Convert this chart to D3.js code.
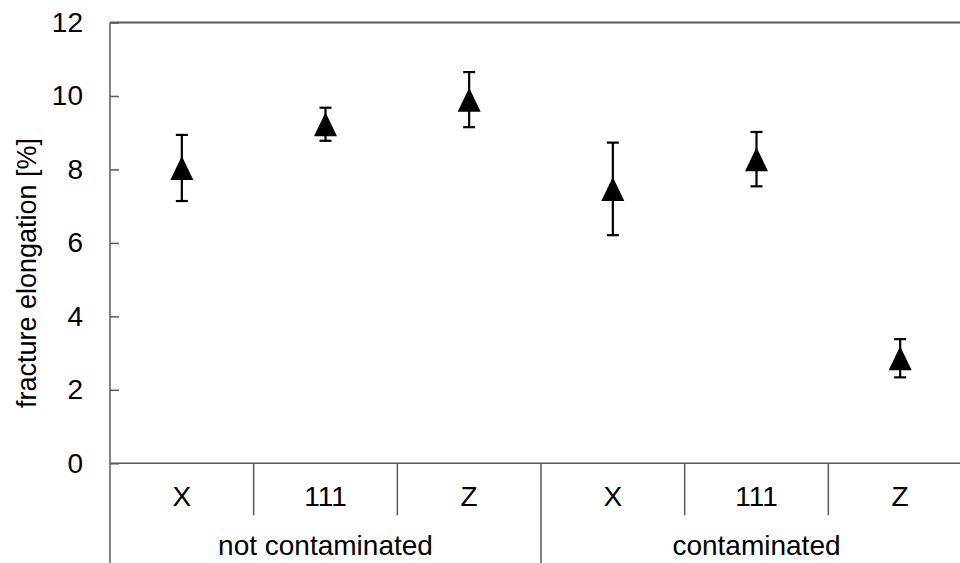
<!DOCTYPE html>
<html>
<head>
<meta charset="utf-8">
<script src="https://cdn.jsdelivr.net/npm/d3@7"></script>
<style>
  html, body { margin: 0; padding: 0; background: #fff; }
  svg { display: block; }
  text { font-family: "Liberation Sans", Arial, sans-serif; fill: #000; }
</style>
</head>
<body>
<svg id="chart" width="960" height="563"></svg>
<script>
// Fracture elongation (mean ± spread) per orientation, with and without contamination
const categories = ["X", "111", "Z", "X", "111", "Z"];
const groups = ["not contaminated", "contaminated"];
const groupSize = 3;
const means = [8.04, 9.23, 9.90, 7.47, 8.28, 2.86];
const errors = [0.90, 0.45, 0.75, 1.26, 0.74, 0.52];
const yTicks = [0, 2, 4, 6, 8, 10, 12];
const yLabel = "fracture elongation [%]";

const W = 960, H = 563;
const margin = { left: 110, top: 22.5, bottom: 463.3, right: 972 };
const axisColor = "#5a5a5a";
const fontSize = 28;

const svg = d3.select("#chart");

const x = d3.scaleBand()
  .domain(d3.range(categories.length))
  .range([margin.left, margin.right])
  .padding(0);

const y = d3.scaleLinear()
  .domain([0, 12])
  .range([margin.bottom, margin.top]);

// Top frame line
svg.append("line")
  .attr("x1", margin.left).attr("x2", W)
  .attr("y1", y(12)).attr("y2", y(12))
  .attr("stroke", axisColor).attr("stroke-width", 2);

// Y axis with inward ticks
const yAxis = d3.axisLeft(y)
  .tickValues(yTicks)
  .tickSizeInner(-9)
  .tickSizeOuter(0)
  .tickPadding(27)
  .tickFormat(d3.format("d"));

const gy = svg.append("g")
  .attr("transform", `translate(${margin.left},0)`)
  .call(yAxis);
gy.select(".domain").remove();
gy.selectAll(".tick line").attr("stroke", axisColor).attr("stroke-width", 1.5);
gy.selectAll(".tick text")
  .attr("font-size", fontSize)
  .attr("font-family", "Liberation Sans, Arial, sans-serif")
  .attr("fill", "#000");

// Left axis line (runs down through the category area)
svg.append("line")
  .attr("x1", margin.left).attr("x2", margin.left)
  .attr("y1", y(12)).attr("y2", H)
  .attr("stroke", axisColor).attr("stroke-width", 1.5);

// X axis baseline
svg.append("line")
  .attr("x1", margin.left).attr("x2", margin.right)
  .attr("y1", y(0)).attr("y2", y(0))
  .attr("stroke", axisColor).attr("stroke-width", 1.5);

// Category separators: short between categories, long between groups
const bounds = d3.range(1, categories.length + 1).map(i => x(i - 1) + x.bandwidth());
svg.append("g").selectAll("line")
  .data(bounds)
  .join("line")
  .attr("x1", d => d).attr("x2", d => d)
  .attr("y1", y(0))
  .attr("y2", (d, i) => ((i + 1) % groupSize === 0) ? H : y(0) + 52)
  .attr("stroke", axisColor).attr("stroke-width", 1.5);

// Category labels
svg.append("g").selectAll("text")
  .data(categories)
  .join("text")
  .attr("x", (d, i) => x(i) + x.bandwidth() / 2)
  .attr("y", y(0) + 43)
  .attr("text-anchor", "middle")
  .attr("font-size", fontSize)
  .text(d => d);

// Group labels
svg.append("g").selectAll("text")
  .data(groups)
  .join("text")
  .attr("x", (d, g) => {
    const a = x(g * groupSize);
    const b = x(g * groupSize + groupSize - 1) + x.bandwidth();
    return (a + b) / 2;
  })
  .attr("y", 555)
  .attr("text-anchor", "middle")
  .attr("font-size", fontSize)
  .text(d => d);

// Y axis title
svg.append("text")
  .attr("transform", `translate(36,273) rotate(-90)`)
  .attr("text-anchor", "middle")
  .attr("font-size", 27)
  .text(yLabel);

// Error bars
const capHalf = 6;
const eb = svg.append("g").selectAll("g")
  .data(means.map((m, i) => ({ i, m, e: errors[i] })))
  .join("g")
  .attr("stroke", "#000")
  .attr("stroke-width", 2.2);
eb.append("line")
  .attr("x1", d => x(d.i) + x.bandwidth() / 2)
  .attr("x2", d => x(d.i) + x.bandwidth() / 2)
  .attr("y1", d => y(d.m + d.e))
  .attr("y2", d => y(d.m - d.e));
eb.append("line")
  .attr("x1", d => x(d.i) + x.bandwidth() / 2 - capHalf)
  .attr("x2", d => x(d.i) + x.bandwidth() / 2 + capHalf)
  .attr("y1", d => y(d.m + d.e))
  .attr("y2", d => y(d.m + d.e));
eb.append("line")
  .attr("x1", d => x(d.i) + x.bandwidth() / 2 - capHalf)
  .attr("x2", d => x(d.i) + x.bandwidth() / 2 + capHalf)
  .attr("y1", d => y(d.m - d.e))
  .attr("y2", d => y(d.m - d.e));

// Triangle markers centred on the mean
const triW = 23, triH = 24;
function triangle(cx, cy) {
  const p = d3.path();
  p.moveTo(cx, cy - triH / 2);
  p.lineTo(cx + triW / 2, cy + triH / 2);
  p.lineTo(cx - triW / 2, cy + triH / 2);
  p.closePath();
  return p.toString();
}
svg.append("g").selectAll("path")
  .data(means)
  .join("path")
  .attr("d", (m, i) => triangle(x(i) + x.bandwidth() / 2, y(m)))
  .attr("fill", "#000");
</script>
</body>
</html>
